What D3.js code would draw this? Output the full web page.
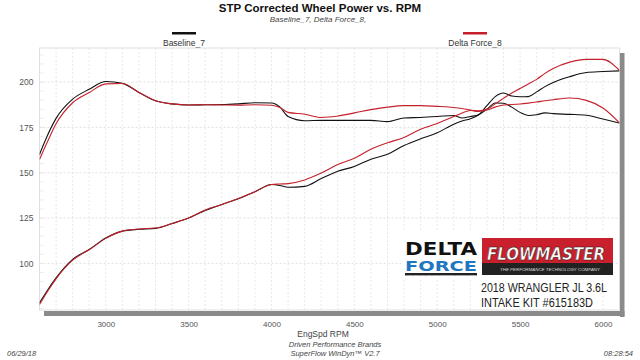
<!DOCTYPE html>
<html><head><meta charset="utf-8">
<script src="https://cdn.jsdelivr.net/npm/d3@7"></script>
<style>
html,body{margin:0;padding:0;background:#fff;}
svg{display:block;font-family:"Liberation Sans",Arial,sans-serif;}
</style></head>
<body><svg id="c" width="640" height="360"></svg>
<script>
const rpm = [2600,2650,2700,2800,2900,3000,3100,3200,3300,3400,3500,3600,3700,3800,3900,4000,4050,4100,4200,4300,4400,4500,4600,4700,4800,4900,5000,5100,5150,5200,5250,5300,5350,5400,5450,5500,5550,5600,5650,5700,5800,5900,6000,6100];
const baselineTorque = [160.1,171,180,190.6,196,200.3,199.3,194.3,189.7,188,187.4,187.5,187.6,188,188.6,188.5,186.3,181,178.7,178.9,178.9,178.9,178.9,178.2,180.2,180.5,181,181.6,180.2,181,182,185,188.5,188.3,186.2,183.3,181.6,182,183,182.6,182.2,181.7,179.6,177.4];
const deltaTorque = [157.3,167.5,177,188.6,194.2,199,199.2,194.3,189.7,188,187.4,187.5,187.4,187.3,187.5,187.2,186,183.3,182.3,180.5,181.3,183,184.8,186.2,187,187,186.6,186,185.4,184.6,183.8,184.6,186.2,187.4,187.6,187.9,188.4,189,189.7,190.3,191.2,189.9,185.7,177.5];
const baselinePower = [78.2,85.5,92,102.2,107.7,114,117.8,118.8,119.3,122,125,129.2,132.5,135.7,139.5,143.5,143,142,142.5,146.8,150.8,153.5,157.5,160.2,165,168.7,172,176.8,178.5,179.8,182,187,192,194,192.3,191.9,192,194.6,197.5,199.8,203,205.3,205.8,206.2];
const deltaPower = [77.3,84.8,91.5,101.8,107.5,113.8,117.8,119,119.5,122,125,129.5,132.5,135.8,139.5,143.5,143.8,144,146,149.8,154.5,158,163,166.5,169.5,174,177.2,181,183,184.3,184.2,185,188,191,194,196.5,199,201.5,204.8,207.5,211,212.5,212.5,206.5];
const seriesNames = ["Baseline_7","Delta Force_8"];
const seriesColors = ["#111111","#c4202b"];
const xTicks = [3000,3500,4000,4500,5000,5500,6000];
const yTicks = [100,125,150,175,200];

const svg = d3.select("#c");
const L=39.5,R=619.5,T=48,B=310;
const x = d3.scaleLinear().domain([2600,6100]).range([L,R]);
const y = d3.scaleLinear().domain([74.3,218.8]).range([B,T]);

// titles
svg.append("text").attr("x",320).attr("y",12).attr("text-anchor","middle")
  .attr("font-size",11.5).attr("font-weight","bold").attr("fill","#111")
  .text("STP Corrected Wheel Power vs. RPM");
svg.append("text").attr("x",318).attr("y",22).attr("text-anchor","middle")
  .attr("font-size",8).attr("font-style","italic").attr("fill","#444")
  .text("Baseline_7, Delta Force_8,");

// legend
const legX=[184,475];
seriesNames.forEach((n,i)=>{
  svg.append("rect").attr("x",legX[i]-12).attr("y",32).attr("width",24).attr("height",2.5).attr("fill",seriesColors[i]);
  svg.append("text").attr("x",legX[i]).attr("y",45.5).attr("text-anchor","middle")
    .attr("font-size",8.5).attr("fill","#333").text(n);
});

// shadow
svg.append("rect").attr("x",44).attr("y",B+1).attr("width",R-44+5).attr("height",5).attr("fill","#8a8a8a");
svg.append("rect").attr("x",R+0.5).attr("y",T+5).attr("width",4.5).attr("height",B-T+2).attr("fill","#8a8a8a");
svg.append("rect").attr("x",L).attr("y",T).attr("width",R-L).attr("height",B-T).attr("fill","#fff").attr("stroke","#d8d8d8").attr("stroke-width",0.8);

// grid
const g = svg.append("g");
g.selectAll(".vg").data(d3.range(2700,6100,100)).join("line")
  .attr("x1",d=>x(d)).attr("x2",d=>x(d)).attr("y1",T).attr("y2",B)
  .attr("stroke","#dcdcdc").attr("stroke-width",0.7).attr("stroke-dasharray","2,2");
g.selectAll(".hg").data(yTicks).join("line")
  .attr("x1",L).attr("x2",R).attr("y1",d=>y(d)).attr("y2",d=>y(d))
  .attr("stroke","#d4d4d4").attr("stroke-width",0.7).attr("stroke-dasharray","2,2");
g.selectAll(".mt").data(d3.range(75,220,5)).join("line")
  .attr("x1",L).attr("x2",L+4).attr("y1",d=>y(d)).attr("y2",d=>y(d))
  .attr("stroke","#e2e2e2").attr("stroke-width",0.7);

// axes labels
const yAxis = d3.axisLeft(y).tickValues(yTicks).tickSize(0).tickPadding(6);
const ya = svg.append("g").attr("transform",`translate(${L},0)`).call(yAxis);
ya.select(".domain").remove();
ya.selectAll("text").attr("font-size",8.5).attr("fill","#555").attr("font-family","Liberation Sans, Arial, sans-serif");
const xAxis = d3.axisBottom(x).tickValues(xTicks).tickSize(0).tickPadding(11).tickFormat(d3.format("d"));
const xa = svg.append("g").attr("transform",`translate(0,${B})`).call(xAxis);
xa.select(".domain").remove();
xa.selectAll("text").attr("font-size",8).attr("fill","#555").attr("font-family","Liberation Sans, Arial, sans-serif");

svg.append("text").attr("x",323).attr("y",337).attr("text-anchor","middle").attr("font-size",8.5).attr("fill","#444").text("EngSpd  RPM");
svg.append("text").attr("x",335).attr("y",346.5).attr("text-anchor","middle").attr("font-size",7.5).attr("font-style","italic").attr("fill","#444").text("Driven Performance Brands");
svg.append("text").attr("x",335).attr("y",356).attr("text-anchor","middle").attr("font-size",7.5).attr("font-style","italic").attr("fill","#444").text("SuperFlow WinDyn\u2122  V2.7");
svg.append("text").attr("x",7).attr("y",356).attr("font-size",7.5).attr("font-style","italic").attr("fill","#444").text("06/29/18");
svg.append("text").attr("x",633).attr("y",356).attr("text-anchor","end").attr("font-size",7.5).attr("font-style","italic").attr("fill","#444").text("08:28:54");

// logo backgrounds
svg.append("rect").attr("x",403).attr("y",232).attr("width",213).attr("height",46).attr("fill","#fff");
svg.append("rect").attr("x",478).attr("y",278).attr("width",121).attr("height",31).attr("fill","#fff");

// curves
const line = d3.line().x(d=>x(d[0])).y(d=>y(d[1])).curve(d3.curveMonotoneX);
const series = [[baselineTorque,0],[baselinePower,0],[deltaTorque,1],[deltaPower,1]];
svg.append("clipPath").attr("id","pc").append("rect").attr("x",L).attr("y",T).attr("width",R-L).attr("height",B-T);
series.forEach(([vals,ci])=>{
  svg.append("path").attr("d",line(rpm.map((r,i)=>[r,vals[i]])))
    .attr("fill","none").attr("stroke",seriesColors[ci]).attr("stroke-width",1.1)
    .attr("clip-path","url(#pc)");
});

// Delta Force logo
svg.append("text").attr("x",405).attr("y",255).attr("font-family","DejaVu Sans").attr("font-weight","bold")
  .attr("font-size",17).attr("textLength",72).attr("lengthAdjust","spacingAndGlyphs").attr("fill","#111").text("DELTA");
svg.append("text").attr("x",405).attr("y",270.5).attr("font-family","DejaVu Sans").attr("font-weight","bold")
  .attr("font-size",14).attr("textLength",72).attr("lengthAdjust","spacingAndGlyphs").attr("fill","#1f77c0").text("FORCE");
svg.append("rect").attr("x",405).attr("y",273).attr("width",72).attr("height",2.5).attr("fill","#222");
svg.append("text").attr("x",406).attr("y",275.6).attr("font-size",2.2).attr("textLength",70).attr("lengthAdjust","spacingAndGlyphs").attr("fill","#ddd").text("HIGH QUALITY INTAKE SYSTEMS BY FLOWMASTER");

// Flowmaster logo
svg.append("rect").attr("x",482).attr("y",238).attr("width",131).attr("height",37).attr("fill","#222");
svg.append("rect").attr("x",482).attr("y",238).attr("width",131).attr("height",25).attr("fill","#c8202c");
svg.append("text").attr("x",487).attr("y",260).attr("font-family","DejaVu Sans").attr("font-weight","bold").attr("font-style","italic")
  .attr("font-size",18).attr("textLength",118).attr("lengthAdjust","spacingAndGlyphs").attr("fill","#fff")
  .attr("stroke","#111").attr("stroke-width",0.5).text("FLOWMASTER");
svg.append("text").attr("x",500).attr("y",271).attr("font-size",4.2).attr("font-style","italic").attr("textLength",100)
  .attr("lengthAdjust","spacingAndGlyphs").attr("fill","#ddd").text("THE PERFORMANCE TECHNOLOGY COMPANY");
svg.append("text").attr("x",481).attr("y",292).attr("font-size",13).attr("textLength",126).attr("lengthAdjust","spacingAndGlyphs")
  .attr("fill","#222").text("2018 WRANGLER JL 3.6L");
svg.append("text").attr("x",481).attr("y",307).attr("font-size",13).attr("textLength",112).attr("lengthAdjust","spacingAndGlyphs")
  .attr("fill","#222").text("INTAKE KIT #615183D");
</script></body></html>
